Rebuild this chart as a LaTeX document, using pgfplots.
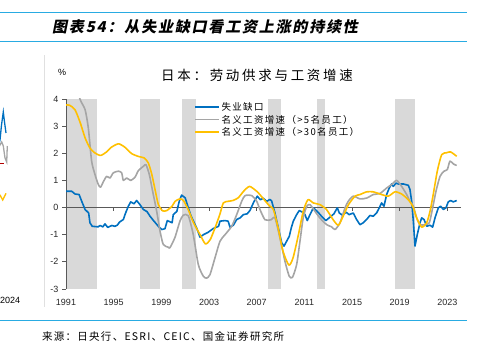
\documentclass[border=0pt]{standalone}
\usepackage{pgfplots}
\pgfplotsset{compat=1.18}
\usepackage{fontspec}
\setmainfont{Liberation Sans}
\newfontfamily\cjk{Noto Sans CJK SC}
\newfontfamily\cjktitle[FakeSlant=0.2,LetterSpace=12]{Noto Sans CJK SC}
\newfontfamily\cjkhead[LetterSpace=20]{Noto Sans CJK SC}
\newfontfamily\cjksrc[LetterSpace=12]{Noto Sans CJK SC}
\newfontfamily\cjkleg[LetterSpace=14]{Noto Sans CJK SC}
\definecolor{ublue}{RGB}{0,112,192}
\definecolor{wgray}{RGB}{165,165,165}
\definecolor{wyel}{RGB}{255,192,0}
\definecolor{band}{RGB}{217,217,217}
\definecolor{rulec}{RGB}{41,171,226}
\definecolor{axgray}{RGB}{89,89,89}
\begin{document}
\begin{tikzpicture}[x=1pt,y=1pt]
\path[use as bounding box] (0pt,0pt) rectangle (486pt,342pt);
% rules
\draw[rulec, line width=1pt] (0pt,329pt) -- (467pt,329pt);
\draw[rulec, line width=1pt] (0pt,300pt) -- (467pt,300pt);
\draw[rulec, line width=1pt] (0pt,22pt) -- (467pt,22pt);
\draw[black!12, line width=0.8pt] (44pt,287pt) -- (44pt,35pt);
% title
\node[anchor=west, inner sep=0] at (52pt,315pt) {\cjktitle\bfseries\fontsize{15}{18}\selectfont 图表54：从失业缺口看工资上涨的持续性};
\node[inner sep=0] at (257pt,267pt) {\cjkhead\fontsize{13.5}{15}\selectfont 日本：劳动供求与工资增速};
\node[inner sep=0] at (62pt,270pt) {\fontsize{9}{10}\selectfont \%};
\node[anchor=west, inner sep=0] at (42pt,6pt) {\cjksrc\fontsize{10.5}{12}\selectfont 来源：日央行、ESRI、CEIC、国金证券研究所};
\node[anchor=west, inner sep=0] at (0pt,42pt) {\fontsize{9}{10}\selectfont 2024};

% fragment of neighbouring chart
\begin{axis}[at={(-12pt,53pt)}, anchor=south west, scale only axis, width=20pt, height=190pt,
  xmin=-12, xmax=8, ymin=53, ymax=243, hide axis, clip=false]
\addplot[wgray, line width=1.3pt] coordinates {(-3,192) (0,197) (1.7,200) (3.3,196) (5,184) (6.7,180) (7.3,196)};
\addplot[ublue, line width=1.3pt] coordinates {(-3,190) (0,202) (1.5,217) (3.3,230) (4.5,220) (6,209)};
\addplot[red!70!black, line width=1pt] coordinates {(-3,178.7) (4,178.7)};
\addplot[wyel, line width=1.3pt] coordinates {(-3,147) (0,147) (2.7,142) (6,148.7)};
\end{axis}

\begin{axis}[
  at={(66pt,53pt)}, anchor=south west, scale only axis, width=395pt, height=190pt,
  xmin=1991, xmax=2024.14, ymin=-3, ymax=4,
  axis y line*=left, axis x line*=bottom,
  x axis line style={draw=none},
  y axis line style={draw=axgray, line width=0.8pt},
  ytick={-3,-2,-1,0,1,2,3,4}, yticklabels={-3,-2,-1,0,1,2,3,4},
  xtick={1991,1995,1999,2003,2007,2011,2015,2019,2023},
  xticklabels={1991,1995,1999,2003,2007,2011,2015,2019,2023},
  xtick style={draw=none},
  ytick style={draw=axgray, line width=0.8pt},
  tick align=outside, major tick length=4pt,
  ticklabel style={font=\fontsize{9}{10}\selectfont, text=black!85},
  xticklabel style={yshift=-2.5pt},
  legend style={at={(rel axis cs:0.325,0.99)}, anchor=north west, draw=none, fill=none,
    font=\cjkleg\fontsize{9.5}{10}\selectfont, row sep=0pt, inner sep=0pt, nodes={inner sep=1.5pt}},
  legend cell align=left,
  legend image code/.code={\draw[#1, line width=1.5pt] (0pt,0.5pt) -- (24pt,0.5pt);},
]
% recession bands
\addplot[draw=none, fill=band, forget plot] coordinates {(1991.11,-3) (1991.11,4) (1993.63,4) (1993.63,-3)} -- cycle;
\addplot[draw=none, fill=band, forget plot] coordinates {(1997.21,-3) (1997.21,4) (1998.89,4) (1998.89,-3)} -- cycle;
\addplot[draw=none, fill=band, forget plot] coordinates {(2000.70,-3) (2000.70,4) (2001.88,4) (2001.88,-3)} -- cycle;
\addplot[draw=none, fill=band, forget plot] coordinates {(2007.95,-3) (2007.95,4) (2009.04,4) (2009.04,-3)} -- cycle;
\addplot[draw=none, fill=band, forget plot] coordinates {(2012.08,-3) (2012.08,4) (2012.73,4) (2012.73,-3)} -- cycle;
\addplot[draw=none, fill=band, forget plot] coordinates {(2018.63,-3) (2018.63,4) (2020.28,4) (2020.28,-3)} -- cycle;
\draw[axgray, line width=0.8pt] (axis cs:1991,0) -- (axis cs:2024.14,0);
\draw[axgray, line width=0.6pt] (axis cs:1995,0) -- ++(0pt,-3pt);
\draw[axgray, line width=0.6pt] (axis cs:1999,0) -- ++(0pt,-3pt);
\draw[axgray, line width=0.6pt] (axis cs:2003,0) -- ++(0pt,-3pt);
\draw[axgray, line width=0.6pt] (axis cs:2007,0) -- ++(0pt,-3pt);
\draw[axgray, line width=0.6pt] (axis cs:2011,0) -- ++(0pt,-3pt);
\draw[axgray, line width=0.6pt] (axis cs:2015,0) -- ++(0pt,-3pt);
\draw[axgray, line width=0.6pt] (axis cs:2019,0) -- ++(0pt,-3pt);
\draw[axgray, line width=0.6pt] (axis cs:2023,0) -- ++(0pt,-3pt);

\addplot[ublue, line width=1.6pt, line join=round] coordinates {
(1991.0,0.6) (1991.48,0.6) (1991.76,0.5) (1992.1,0.48) (1992.32,0.23) (1992.6,-0.07) (1992.9,-0.2)
(1993.01,-0.56) (1993.2,-0.69) (1993.7,-0.71) (1993.85,-0.66) (1994.1,-0.71) (1994.27,-0.6) (1994.5,-0.73)
(1994.85,-0.66) (1995.1,-0.69) (1995.3,-0.65) (1995.5,-0.53) (1995.81,-0.44) (1996.0,-0.2) (1996.23,0.05)
(1996.43,0.21) (1996.7,0.14) (1996.93,0.26) (1997.2,0.11) (1997.49,-0.07) (1997.8,-0.15) (1998.05,-0.32)
(1998.38,-0.5) (1998.75,-0.69) (1999.03,-0.81) (1999.3,-0.78) (1999.5,-0.48) (1999.9,-0.56) (2000.0,-0.26)
(2000.3,-0.14) (2000.5,0.23) (2000.7,0.46) (2001.0,0.36) (2001.26,-0.01) (2001.5,-0.32) (2001.96,-0.75)
(2002.24,-1.09) (2002.52,-1.0) (2002.93,-0.91) (2003.36,-0.77) (2003.8,-0.69) (2003.92,-0.5) (2004.34,-0.48)
(2004.6,-0.5) (2004.76,-0.72) (2005.04,-0.65) (2005.32,-0.44) (2005.6,-0.38) (2005.88,-0.26) (2006.2,-0.23)
(2006.43,-0.11) (2006.76,0.21) (2007.05,0.42) (2007.3,0.29) (2007.55,0.34) (2007.84,0.23) (2008.1,0.3)
(2008.25,0.25) (2008.53,-0.2) (2008.81,-0.75) (2009.1,-1.3) (2009.29,-1.42) (2009.51,-1.24) (2009.73,-1.06)
(2009.9,-0.75) (2010.07,-0.5) (2010.35,-0.26) (2010.57,-0.11) (2010.85,-0.17) (2011.05,-0.26) (2011.24,-0.48)
(2011.47,-0.26) (2011.75,-0.01) (2012.08,-0.14) (2012.44,-0.32) (2012.8,-0.48) (2013.13,-0.36) (2013.48,-0.23)
(2013.76,-0.01) (2013.93,-0.2) (2014.2,-0.28) (2014.5,-0.17) (2014.76,-0.26) (2015.1,-0.2) (2015.38,-0.44)
(2015.66,-0.63) (2015.94,-0.56) (2016.22,-0.44) (2016.5,-0.29) (2016.78,-0.32) (2017.06,-0.2) (2017.28,-0.01)
(2017.48,0.17) (2017.68,0.05) (2017.9,0.48) (2018.12,0.72) (2018.32,0.87) (2018.46,0.78) (2018.68,0.9)
(2018.88,0.87) (2019.3,0.87) (2019.72,0.82) (2019.86,0.66) (2020.0,0.23) (2020.14,-0.5) (2020.28,-1.42)
(2020.47,-1.0) (2020.7,-0.56) (2020.84,-0.38) (2021.04,-0.44) (2021.26,-0.69) (2021.54,-0.65) (2021.76,-0.72)
(2021.96,-0.38) (2022.24,-0.01) (2022.43,0.05) (2022.66,-0.07) (2022.88,-0.01) (2023.07,0.21) (2023.27,0.26)
(2023.49,0.21) (2023.78,0.26)};
\addlegendentry{失业缺口}

\addplot[wgray, line width=1.6pt, line join=round, smooth, tension=0.4] coordinates {
(1991.0,5.2) (1991.6,4.9) (1992.17,4.0) (1992.6,3.61) (1992.87,2.94) (1993.15,1.71) (1993.43,1.22)
(1993.71,0.85) (1993.9,0.75) (1994.13,0.95) (1994.41,1.15) (1994.69,1.09) (1994.97,1.28) (1995.39,1.34)
(1995.67,1.28) (1995.81,1.0) (1996.09,1.09) (1996.43,1.0) (1996.79,1.12) (1997.07,1.36) (1997.49,1.52)
(1997.71,1.58) (1997.99,1.22) (1998.27,0.6) (1998.61,-0.14) (1998.89,-0.87) (1999.16,-1.36) (1999.58,-1.46)
(1999.72,-1.48) (2000.14,-1.1) (2000.56,-0.5) (2000.84,-0.28) (2001.26,-0.3) (2001.68,-1.0) (2002.1,-2.1)
(2002.52,-2.53) (2002.8,-2.6) (2003.08,-2.47) (2003.5,-1.85) (2003.92,-1.24) (2004.34,-1.0) (2004.9,-0.69)
(2005.32,-0.26) (2005.74,0.23) (2006.02,0.44) (2006.58,0.44) (2007.0,0.23) (2007.3,-0.1) (2007.7,-0.45)
(2008.2,-0.45) (2008.53,-0.38) (2008.95,-1.12) (2009.37,-1.98) (2009.73,-2.53) (2010.0,-2.57) (2010.35,-2.1)
(2010.63,-1.24) (2010.9,-0.38) (2011.2,0.05) (2011.47,0.11) (2011.89,-0.14) (2012.3,-0.38) (2012.87,-0.63)
(2013.29,-0.71) (2013.57,-0.81) (2013.99,-0.56) (2014.41,-0.01) (2014.68,0.23) (2015.1,0.42) (2015.66,0.32)
(2016.23,0.35) (2016.78,0.48) (2017.34,0.52) (2017.9,0.72) (2018.32,0.85) (2018.74,1.0) (2019.16,0.78)
(2019.58,0.48) (2019.86,0.23) (2020.14,0.05) (2020.42,-0.38) (2020.7,-0.63) (2021.12,-0.63) (2021.48,-0.56)
(2021.76,-0.01) (2022.04,0.6) (2022.38,1.15) (2022.71,1.34) (2022.99,1.4) (2023.21,1.71) (2023.49,1.61)
(2023.78,1.55)};
\addlegendentry{名义工资增速（>5名员工）}

\addplot[wyel, line width=1.6pt, line join=round, smooth, tension=0.4] coordinates {
(1991.0,3.78) (1991.3,3.77) (1991.75,3.61) (1992.2,3.12) (1992.6,2.57) (1993.0,2.2) (1993.4,2.02)
(1993.9,1.92) (1994.4,2.05) (1994.8,2.22) (1995.4,2.35) (1995.95,2.22) (1996.5,1.99) (1997.1,1.88)
(1997.55,1.83) (1997.9,1.65) (1998.2,1.22) (1998.5,0.6) (1998.75,0.11) (1999.1,-0.12) (1999.45,-0.11)
(1999.9,0.05) (2000.15,0.23) (2000.55,0.32) (2000.85,0.26) (2001.25,-0.07) (2001.7,-0.56) (2002.25,-1.0)
(2002.7,-1.34) (2003.1,-1.18) (2003.5,-0.75) (2003.9,-0.26) (2004.2,0.17) (2004.6,0.23) (2005.0,0.26)
(2005.45,0.36) (2005.9,0.6) (2006.4,0.78) (2007.0,0.6) (2007.3,0.46) (2007.7,0.25) (2008.1,0.05)
(2008.4,-0.07) (2008.8,-0.75) (2009.2,-1.6) (2009.7,-2.12) (2010.05,-1.85) (2010.5,-1.0) (2010.9,-0.14)
(2011.3,0.29) (2011.75,0.17) (2012.3,0.11) (2012.85,-0.07) (2013.4,-0.44) (2013.85,-0.65) (2014.25,-0.32)
(2014.7,0.11) (2015.25,0.42) (2015.66,0.48) (2016.23,0.58) (2016.78,0.58) (2017.34,0.5) (2018.04,0.42)
(2018.6,0.58) (2019.16,0.5) (2019.72,0.29) (2020.09,0.05) (2020.42,-0.38) (2020.84,-0.72) (2021.26,-0.56)
(2021.54,-0.14) (2021.81,0.48) (2022.15,1.34) (2022.52,1.95) (2022.94,2.02) (2023.27,2.05) (2023.78,1.89)};
\addlegendentry{名义工资增速（>30名员工）}
\end{axis}
\end{tikzpicture}
\end{document}
